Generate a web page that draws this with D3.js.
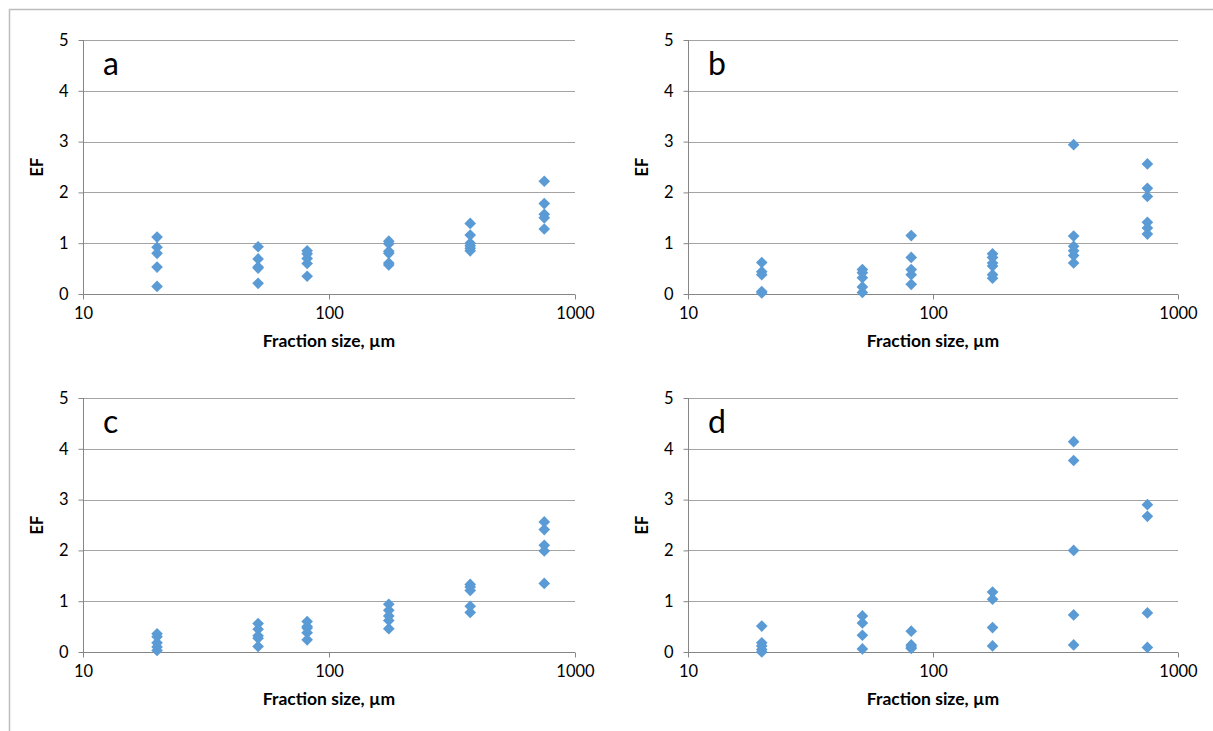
<!DOCTYPE html>
<html>
<head>
<meta charset="utf-8">
<script src="https://cdn.jsdelivr.net/npm/d3@7"></script>
<style>
  body { margin: 0; background: #fff; }
  svg { display: block; font-family: Lato, "Open Sans", sans-serif; }
</style>
</head>
<body>
<div id="chart"></div>
<script>
// fraction sizes (µm), one column of points each
const fractionSizes = [20, 51.5, 81.5, 175, 375, 750]
const xTicks = [10, 100, 1000]
const yTicks = [0, 1, 2, 3, 4, 5]

// EF values per fraction, one array per panel
const efA = [
  [1.12, 0.92, 0.8, 0.53, 0.15],
  [0.93, 0.69, 0.53, 0.51, 0.21],
  [0.85, 0.79, 0.7, 0.6, 0.35],
  [1.04, 0.99, 0.84, 0.8, 0.61, 0.57],
  [1.39, 1.16, 1.0, 0.95, 0.9, 0.85],
  [2.22, 1.78, 1.57, 1.5, 1.28]
]
const efB = [
  [0.62, 0.44, 0.38, 0.05, 0.02],
  [0.48, 0.42, 0.32, 0.14, 0.03],
  [1.15, 0.72, 0.48, 0.38, 0.19],
  [0.79, 0.72, 0.61, 0.55, 0.38, 0.31],
  [2.94, 1.14, 0.94, 0.85, 0.76, 0.61],
  [2.56, 2.08, 1.92, 1.41, 1.3, 1.18]
]
const efC = [
  [0.36, 0.3, 0.18, 0.1, 0.03],
  [0.56, 0.45, 0.32, 0.27, 0.11],
  [0.6, 0.5, 0.47, 0.38, 0.24],
  [0.94, 0.82, 0.71, 0.62, 0.46],
  [1.33, 1.28, 1.21, 0.9, 0.78],
  [2.56, 2.41, 2.1, 1.99, 1.35]
]
const efD = [
  [0.51, 0.18, 0.12, 0.05, 0.0],
  [0.71, 0.57, 0.33, 0.06],
  [0.41, 0.14, 0.1, 0.07],
  [1.18, 1.04, 0.48, 0.12],
  [4.14, 3.77, 2.0, 0.73, 0.14],
  [2.9, 2.67, 0.77, 0.09]
]

const panelLetters = ['a', 'b', 'c', 'd']
const panelData = [efA, efB, efC, efD]

const width = 1213
const height = 731
const MARKER_COLOR = '#5b9bd5'
const GRID_COLOR = '#a3a3a3'
const AXIS_COLOR = '#868686'

// plot areas in pixels
const boxes = [
  { left: 83, right: 575, top: 40, bottom: 294 },
  { left: 688, right: 1178, top: 40, bottom: 294 },
  { left: 83, right: 575, top: 398, bottom: 652 },
  { left: 688, right: 1178, top: 398, bottom: 652 }
]

let svg = d3.select('#chart')
  .append('svg')
  .attr('width', width)
  .attr('height', height)

// outer frame
svg.append('rect')
  .attr('x', 9.5)
  .attr('y', 9.5)
  .attr('width', width + 10)
  .attr('height', height + 10)
  .attr('fill', 'none')
  .attr('stroke', '#bdbdbd')
  .attr('stroke-width', 1.5)

const diamond = d3.symbol().type(d3.symbolSquare).size(68)

panelData.forEach((series, i) => {
  const box = boxes[i]
  let xScale = d3.scaleLog().domain([10, 1000]).range([box.left, box.right])
  let yScale = d3.scaleLinear().domain([0, 5]).range([box.bottom, box.top])

  let g = svg.append('g').attr('class', 'panel')

  // horizontal gridlines
  g.append('g')
    .selectAll('line')
    .data(yTicks.filter(t => t > 0))
    .join('line')
    .attr('x1', box.left)
    .attr('x2', box.right)
    .attr('y1', d => Math.round(yScale(d)) + 0.5)
    .attr('y2', d => Math.round(yScale(d)) + 0.5)
    .attr('stroke', GRID_COLOR)
    .attr('stroke-width', 1.2)

  // y axis
  let yAxis = d3.axisLeft(yScale).tickValues(yTicks).tickFormat(d3.format('d')).tickSize(5).tickPadding(10)
  let yG = g.append('g')
    .attr('transform', 'translate(' + (box.left + 0.5) + ',0)')
    .call(yAxis)
  yG.select('.domain').attr('stroke', AXIS_COLOR).attr('d', 'M0,' + box.top + 'V' + box.bottom)
  yG.selectAll('.tick line').attr('stroke', AXIS_COLOR)
  yG.selectAll('.tick text').attr('font-size', 16.5).attr('fill', '#000').attr('font-family', 'Lato')

  // x axis (log)
  let xAxis = d3.axisBottom(xScale).tickValues(xTicks).tickFormat(d3.format('d')).tickSize(5).tickPadding(8)
  let xG = g.append('g')
    .attr('transform', 'translate(0,' + (box.bottom + 0.5) + ')')
    .call(xAxis)
  xG.select('.domain').attr('stroke', AXIS_COLOR).attr('d', 'M' + box.left + ',0H' + box.right)
  xG.selectAll('.tick line').attr('stroke', AXIS_COLOR)
  xG.selectAll('.tick text').attr('font-size', 16.5).attr('fill', '#000').attr('font-family', 'Lato')

  // axis titles
  g.append('text')
    .attr('x', (box.left + box.right) / 2)
    .attr('y', box.bottom + 53)
    .attr('text-anchor', 'middle')
    .attr('font-size', 17.5)
    .attr('font-weight', 'bold')
    .text('Fraction size, µm')

  g.append('text')
    .attr('transform', 'translate(' + (box.left - 40) + ',' + ((box.top + box.bottom) / 2) + ') rotate(-90)')
    .attr('text-anchor', 'middle')
    .attr('font-size', 16.5)
    .attr('font-weight', 'bold')
    .text('EF')

  // panel letter
  g.append('text')
    .attr('x', box.left + 20)
    .attr('y', box.top + 35)
    .attr('font-size', 32)
    .text(panelLetters[i])

  // points
  let points = []
  series.forEach((vals, k) => vals.forEach(v => points.push({ size: fractionSizes[k], ef: v })))

  g.append('g')
    .selectAll('path')
    .data(points)
    .join('path')
    .attr('d', diamond)
    .attr('transform', d => 'translate(' + xScale(d.size) + ',' + yScale(d.ef) + ') rotate(45)')
    .attr('fill', MARKER_COLOR)
})
</script>
</body>
</html>
